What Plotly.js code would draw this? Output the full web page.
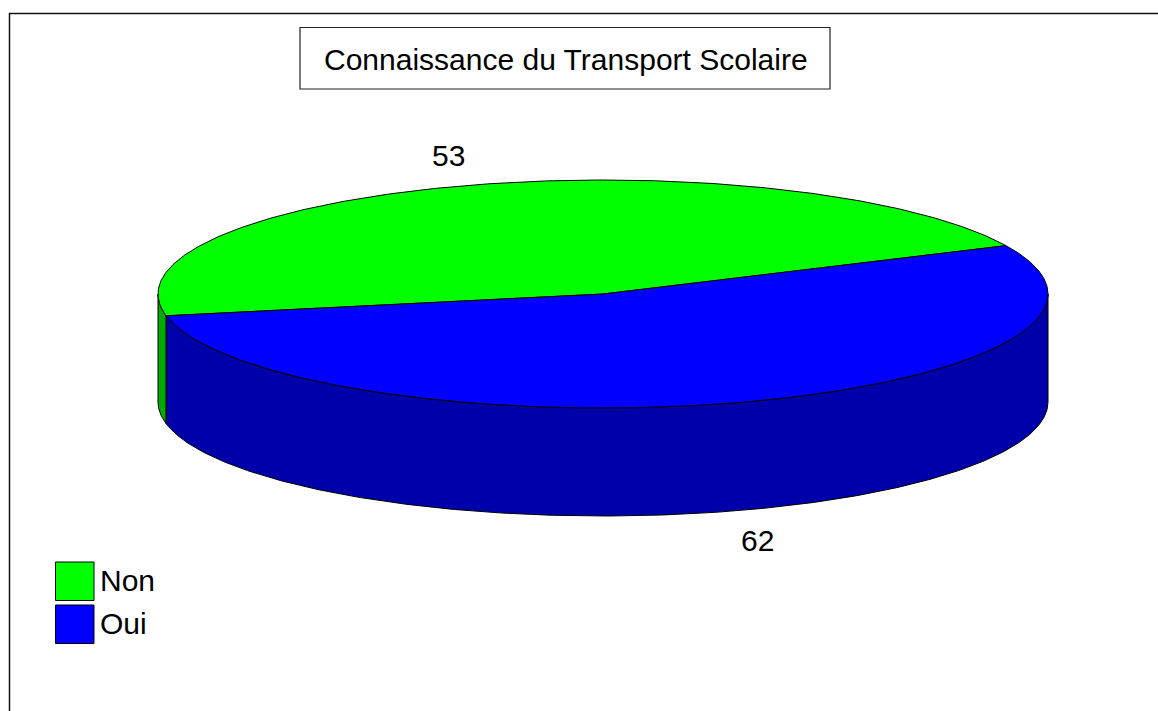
<!DOCTYPE html>
<html><head><meta charset="utf-8">
<script src="https://cdn.plot.ly/plotly-3.0.1.min.js"></script>
<style>html,body{margin:0;padding:0;background:#fff;overflow:hidden}#chart{width:1158px;height:711px;overflow:hidden}</style>
</head><body><div id="chart"></div>
<script>
// ---- data ----
const categories = ['Non', 'Oui'];
const values = [53, 62];
const topColors = ['#00FF00', '#0000FF'];
const sideColors = ['#00AA00', '#0000AA'];
const chartTitle = 'Connaissance du Transport Scolaire';

// ---- geometry of the pseudo-3D pie (pixel space) ----
const W = 1158, H = 711;
const cx = 603, cy = 294, rx = 445, ry = 114, depth = 108;
const startAngle = 25.1; // degrees, counter-clockwise from 3 o'clock
const FONT = '"Liberation Sans", Arial, sans-serif';

const total = values.reduce((a, b) => a + b, 0);
const rad = d => d * Math.PI / 180;
function pt(deg, dy) { return [cx + rx * Math.cos(rad(deg)), cy - ry * Math.sin(rad(deg)) + (dy || 0)]; }
function arc(a0, a1, dy) {
  const n = Math.max(2, Math.ceil(Math.abs(a1 - a0) / 0.5));
  const out = [];
  for (let i = 0; i <= n; i++) out.push(pt(a0 + (a1 - a0) * i / n, dy));
  return out;
}

const traces = [];
const annotations = [];
let cum = 0;
const slices = values.map((v, i) => {
  const a0 = startAngle + cum / total * 360;
  cum += v;
  const a1 = startAngle + cum / total * 360;
  return { a0, a1, i };
});

// sides (front half: 180..360 deg, modulo 360)
slices.forEach(s => {
  for (let k = -1; k <= 1; k++) {
    const lo = Math.max(s.a0, 180 + 360 * k), hi = Math.min(s.a1, 360 + 360 * k);
    if (hi > lo) {
      const top = arc(lo, hi, 0), bot = arc(hi, lo, depth);
      const poly = top.concat(bot); poly.push(top[0]);
      traces.push({
        type: 'scatter', mode: 'lines', fill: 'toself',
        x: poly.map(p => p[0]), y: poly.map(p => p[1]),
        fillcolor: sideColors[s.i], line: { color: '#000', width: 1 },
        hoverinfo: 'skip', showlegend: false
      });
    }
  }
});

// top faces
slices.forEach(s => {
  const a = arc(s.a0, s.a1, 0);
  const poly = [[cx, cy]].concat(a); poly.push([cx, cy]);
  traces.push({
    type: 'scatter', mode: 'lines', fill: 'toself',
    x: poly.map(p => p[0]), y: poly.map(p => p[1]),
    fillcolor: topColors[s.i], line: { color: '#000', width: 1 },
    hoverinfo: 'skip', showlegend: false, name: categories[s.i]
  });
  // value label
  const m = (s.a0 + s.a1) / 2;
  const sn = Math.sin(rad(m));
  annotations.push({
    x: cx + 1.12 * rx * Math.cos(rad(m)),
    y: cy - (ry + 32) * sn + (sn < 0 ? depth : 0),
    xref: 'x', yref: 'y', showarrow: false, text: String(values[s.i]),
    font: { family: FONT, size: 30, color: '#000' }
  });
});

// title
annotations.push({
  x: 566, y: 59, xref: 'x', yref: 'y', showarrow: false, text: chartTitle,
  font: { family: FONT, size: 30, color: '#000' }
});

// frame, title box and legend
const shapes = [
  { type: 'path', xref: 'x', yref: 'y', path: 'M 9.5 720 L 9.5 13.5 L 1170 13.5', line: { color: '#111', width: 1.5 } },
  { type: 'rect', xref: 'x', yref: 'y', x0: 300, y0: 27.5, x1: 830, y1: 89, line: { color: '#222', width: 1.2 } }
];
categories.forEach((c, i) => {
  const y0 = 562 + i * 43;
  shapes.push({ type: 'rect', xref: 'x', yref: 'y', x0: 55.5, y0: y0, x1: 94, y1: y0 + 38.5,
    fillcolor: topColors[i], line: { color: '#000', width: 1 } });
  annotations.push({ x: 98, y: y0 + 18, xref: 'x', yref: 'y', xanchor: 'left', showarrow: false,
    text: c, font: { family: FONT, size: 30, color: '#000' } });
});

const layout = {
  width: W, height: H, margin: { l: 0, r: 0, t: 0, b: 0, pad: 0 },
  paper_bgcolor: '#fff', plot_bgcolor: '#fff', showlegend: false,
  xaxis: { range: [0, W], visible: false, fixedrange: true },
  yaxis: { range: [H, 0], visible: false, fixedrange: true },
  shapes, annotations
};
Plotly.newPlot('chart', traces, layout, { staticPlot: true, displayModeBar: false });
</script>
</body></html>
